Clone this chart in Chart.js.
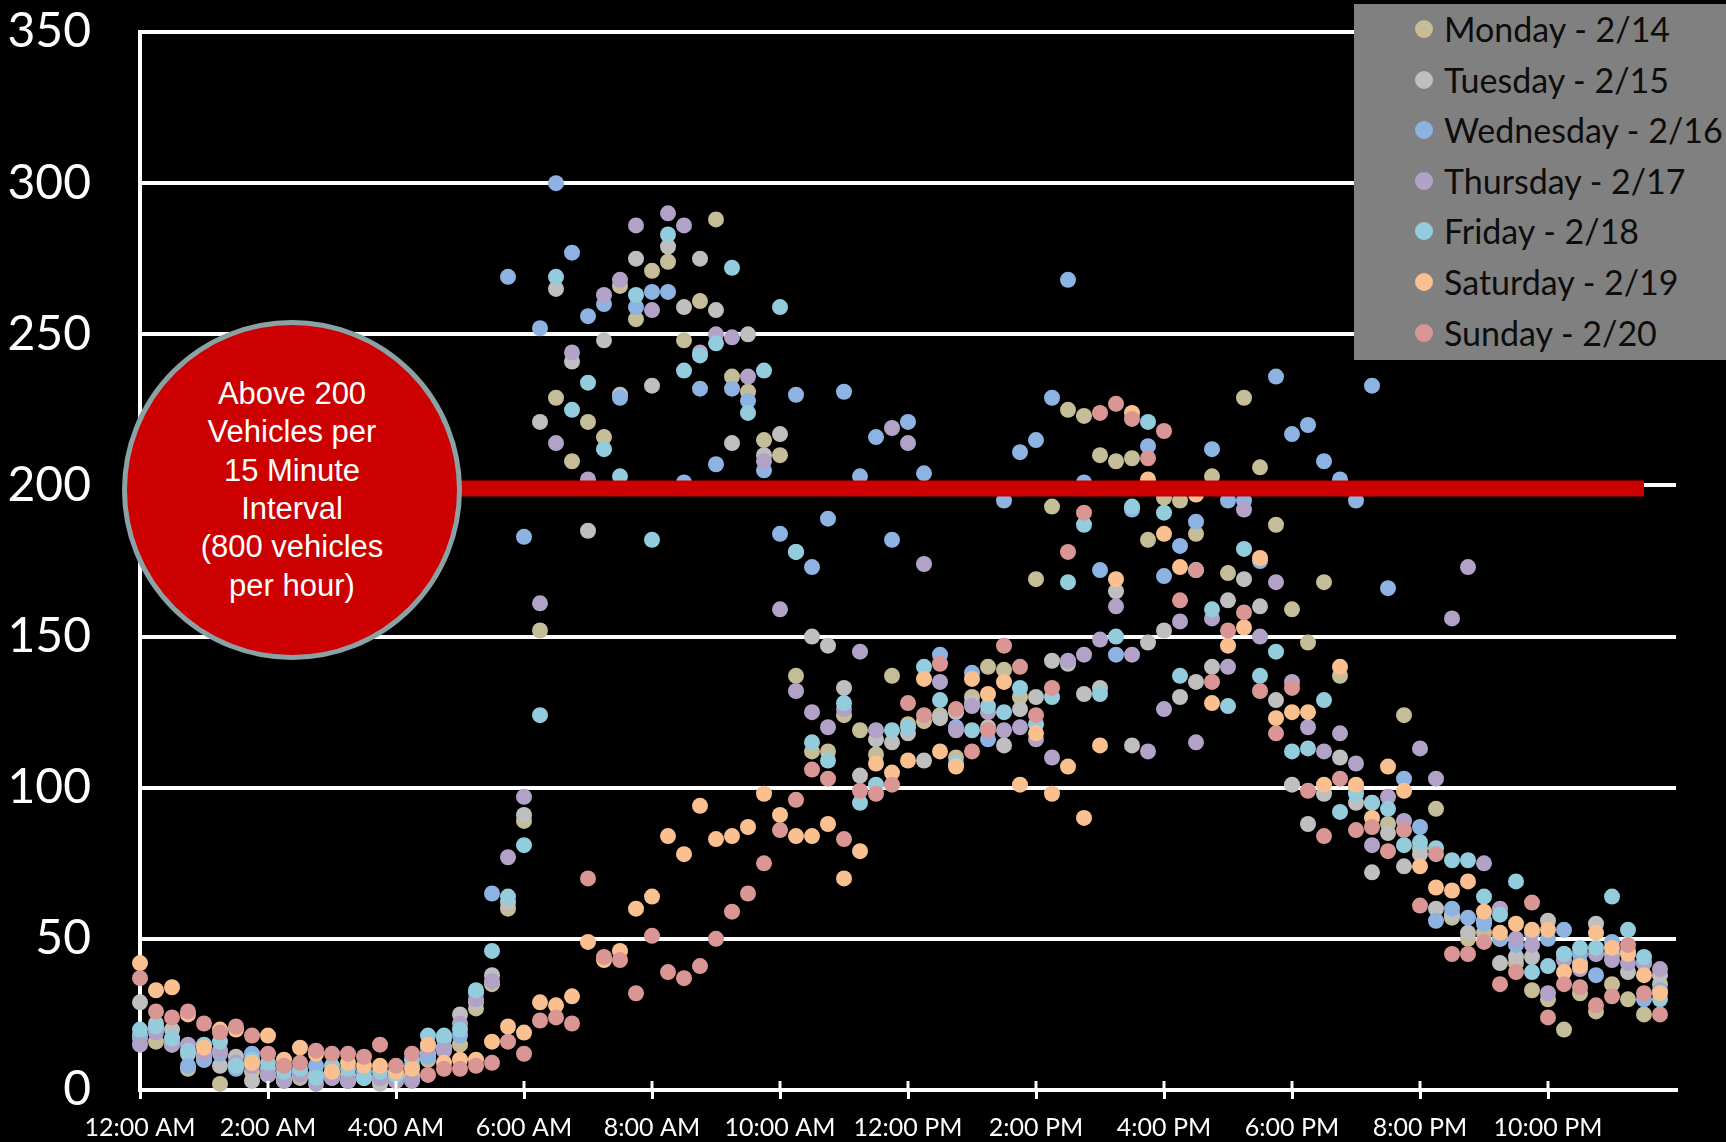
<!DOCTYPE html>
<html>
<head>
<meta charset="utf-8">
<title>Vehicles per 15 Minute Interval</title>
<script src="https://cdn.jsdelivr.net/npm/chart.js@4.4.1/dist/chart.umd.min.js"></script>
<style>
  body { margin: 0; background: #000; }
  #wrap { position: relative; width: 1726px; height: 1142px; overflow: hidden; }
  #chart { position: absolute; left: 0; top: 0; }
  #legend { position: absolute; left: 1354px; top: 4px; width: 372px; height: 356px; background: #808080; }
  .item { position: absolute; left: 0; height: 50px; line-height: 50px; font-family: Lato, sans-serif; font-size: 34px; color: #0d0d0d; white-space: nowrap; }
  .item span.dot { position: absolute; left: 61px; top: 16px; width: 18px; height: 18px; border-radius: 50%; }
  .item span.txt { position: absolute; left: 90px; top: 0; }
  #callout {
    position: absolute; left: 122px; top: 320px; width: 340px; height: 340px;
    box-sizing: border-box; border: 5px solid #8aa2a5; border-radius: 50%;
    background: #cc0000; color: #fff;
    display: flex; align-items: center; justify-content: center; text-align: center;
    font-family: "Liberation Sans", Arial, sans-serif; font-size: 31px; line-height: 38.4px;
  }
</style>
</head>
<body>
<div id="wrap">
  <canvas id="chart" width="1726" height="1142"></canvas>
  <div id="legend"></div>
  <div id="callout"><div>Above 200<br>Vehicles per<br>15 Minute<br>Interval<br>(800 vehicles<br>per hour)</div></div>
</div>
<script>
// 15 minute counts, 96 per day, starting at 12:00 AM
const monday = [18,16,15,7,10,2,8,6,5,4,4,5,4,3,4,3,4,5,10,14,15,27,35,60,
  89,152,229,208,221,216,266,255,271,274,248,261,288,236,231,215,210,137,112,112,124,119,111,137,
  121,122,124,110,130,140,139,130,169,193,225,223,210,208,209,182,196,195,184,203,171,229,206,187,
  159,148,168,137,100,95,88,124,80,93,57,50,52,50,42,33,30,20,32,26,35,30,25,35];
const tuesday = [29,22,20,12,11,8,11,3,7,3,5,5,6,5,4,2,3,4,12,17,25,29,38,62,
  91,221,265,241,185,248,230,275,233,279,259,275,258,214,250,210,217,178,150,147,133,104,116,115,
  118,109,123,125,128,120,114,126,130,142,141,131,133,165,114,148,152,130,135,140,162,169,160,129,
  101,88,98,110,95,72,85,74,78,60,58,52,56,42,44,44,56,45,42,55,45,39,42,38];
const wednesday = [17,20,17,8,10,12,7,12,5,8,6,8,5,3,6,4,5,8,11,14,18,32,65,269,
  183,252,300,277,256,260,229,259,264,264,201,232,207,232,228,205,184,230,173,189,231,203,216,182,
  221,204,144,120,138,116,195,211,215,229,268,201,172,144,192,213,170,180,188,212,195,195,175,236,
  217,220,208,202,195,233,166,103,87,56,60,57,55,50,48,52,50,53,45,38,49,46,30,33];
const thursday = [15,19,15,15,12,13,9,8,5,3,5,2,4,3,4,4,3,3,14,13,22,30,36,77,
  97,161,214,244,202,263,268,286,258,290,286,244,250,249,236,208,159,132,125,120,126,145,119,219,
  214,174,135,119,127,125,119,120,116,110,142,144,149,160,144,112,126,155,115,156,140,192,150,168,
  135,120,112,118,108,81,97,89,113,103,156,173,75,60,50,48,32,43,40,45,43,42,42,40];
const friday = [20,21,17,13,15,16,8,10,9,6,7,4,8,7,4,6,5,10,18,18,20,33,46,64,
  81,124,269,225,234,212,203,263,182,283,238,243,247,272,224,238,259,178,115,109,128,95,101,119,
  120,140,129,108,119,127,125,133,121,130,168,187,131,150,193,221,191,137,172,159,127,179,137,145,
  112,113,129,92,98,95,93,81,82,80,76,76,64,58,69,39,41,45,47,47,64,53,44,30];
const saturday = [42,33,34,25,14,20,20,9,18,10,14,12,6,9,8,8,6,7,15,9,10,10,16,21,
  19,29,28,31,49,43,46,60,64,84,78,94,83,84,87,98,91,84,84,88,70,79,108,105,
  109,136,112,107,136,131,135,101,118,98,107,90,114,169,224,202,184,173,197,128,147,153,176,123,
  125,125,101,140,101,90,107,99,74,67,66,69,59,52,55,53,53,39,41,52,47,45,38,32];
const sunday = [37,26,24,26,22,19,21,18,12,8,9,13,12,12,11,15,8,12,5,7,7,8,9,16,
  12,23,24,22,70,44,43,32,51,39,37,41,50,59,65,75,86,96,106,103,83,99,98,101,
  128,124,141,126,112,119,147,140,124,133,178,191,224,227,222,209,218,162,172,135,152,158,132,118,
  133,99,84,103,86,87,79,86,61,78,45,45,49,35,39,62,24,35,34,28,31,48,32,25];

const dayNames = ['Monday - 2/14', 'Tuesday - 2/15', 'Wednesday - 2/16', 'Thursday - 2/17',
  'Friday - 2/18', 'Saturday - 2/19', 'Sunday - 2/20'];
const dayColors = ['#c4bd97', '#bfbfbf', '#8db3e2', '#b3a2c7', '#93cddd', '#fac090', '#d99694'];
const daySeries = [monday, tuesday, wednesday, thursday, friday, saturday, sunday];

const hourLabels = ['12:00 AM', '2:00 AM', '4:00 AM', '6:00 AM', '8:00 AM', '10:00 AM',
  '12:00 PM', '2:00 PM', '4:00 PM', '6:00 PM', '8:00 PM', '10:00 PM'];

// threshold bar (hours, vehicles)
const thresholdX = [5.0, 23.5];
const thresholdY = [199, 199];

const datasets = daySeries.map((vals, d) => ({
  label: dayNames[d],
  data: vals.map((v, i) => ({ x: i / 4, y: v })),
  backgroundColor: dayColors[d],
  pointBackgroundColor: dayColors[d],
  pointRadius: 8,
  pointHoverRadius: 8,
  pointBorderWidth: 0,
  showLine: false,
  clip: false,
  order: 6 - d
}));

datasets.push({
  type: 'line',
  label: 'threshold',
  data: thresholdX.map((x, i) => ({ x: x, y: thresholdY[i] })),
  borderColor: '#cc0000',
  borderWidth: 16,
  borderCapStyle: 'butt',
  pointRadius: 0,
  fill: false,
  order: -1
});

// x tick marks cross the axis line
const crossTicks = {
  id: 'crossTicks',
  afterDraw(chart) {
    const ctx = chart.ctx, x = chart.scales.x, bottom = chart.chartArea.bottom;
    ctx.save();
    ctx.strokeStyle = '#fff';
    ctx.lineWidth = 3;
    x.ticks.forEach(t => {
      const px = x.getPixelForValue(t.value);
      ctx.beginPath();
      ctx.moveTo(px, bottom - 9);
      ctx.lineTo(px, bottom);
      ctx.stroke();
    });
    ctx.restore();
  }
};

const chart = new Chart(document.getElementById('chart'), {
  type: 'scatter',
  data: { datasets: datasets },
  plugins: [crossTicks],
  options: {
    responsive: false,
    animation: false,
    devicePixelRatio: 1,
    layout: { padding: { top: 32, right: 50, left: 0, bottom: 0 } },
    plugins: { legend: { display: false }, tooltip: { enabled: false } },
    scales: {
      x: {
        type: 'linear',
        min: 0,
        max: 24,
        afterFit: (s) => { s.height = 52; },
        afterBuildTicks: (s) => { s.ticks = s.ticks.filter(t => t.value < 24); },
        ticks: {
          stepSize: 2,
          autoSkip: false,
          maxRotation: 0,
          color: '#fff',
          padding: 14,
          font: { family: 'Lato', size: 25 },
          callback: (v) => hourLabels[v / 2]
        },
        grid: { drawOnChartArea: false, drawTicks: true, tickLength: 9, color: '#fff', lineWidth: 3 },
        border: { color: '#fff', width: 4 }
      },
      y: {
        min: 0,
        max: 350,
        afterFit: (s) => { s.width = 140; s.paddingTop = 0; s.paddingBottom = 0; },
        ticks: {
          stepSize: 50,
          color: '#fff',
          padding: 49,
          font: { family: 'Lato', size: 48 }
        },
        grid: { color: '#fff', lineWidth: 4, drawTicks: false },
        border: { color: '#fff', width: 4 }
      }
    }
  }
});

const legend = document.getElementById('legend');
dayNames.forEach((name, d) => {
  const item = document.createElement('div');
  item.className = 'item';
  item.style.top = (0 + d * 50.6) + 'px';
  item.innerHTML = `<span class="dot" style="background:${dayColors[d]}"></span><span class="txt">${name}</span>`;
  legend.appendChild(item);
});
</script>
</body>
</html>
